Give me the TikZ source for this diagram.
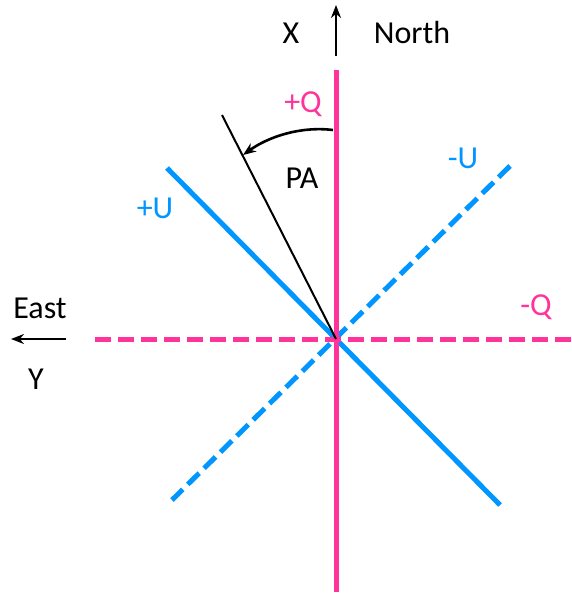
\documentclass[tikz,border=0pt]{standalone}
\usepackage{fontspec}
\setmainfont{Carlito}
\usetikzlibrary{arrows.meta}
\definecolor{qpink}{RGB}{255,51,153}
\definecolor{ublue}{RGB}{0,150,255}
\begin{document}
\begin{tikzpicture}[x=1pt,y=-1pt,
  lbl/.style={font=\fontsize{32}{34}\selectfont, inner sep=0pt},
  qline/.style={qpink, line width=5pt},
  uline/.style={ublue, line width=5pt},
  dashedline/.style={dash pattern=on 16pt off 7pt},
  axarrow/.style={black, line width=2.6pt, -{Stealth[length=13pt,width=10pt]}}]
\useasboundingbox (0,0) rectangle (571,597);
% coordinates
\coordinate (C) at (336,339);
\coordinate (Qt) at (336,70);
\coordinate (Qb) at (336,592);
\coordinate (Ql) at (92,339);
\coordinate (Qr) at (571,339);
\coordinate (Ua) at (167,168);
\coordinate (Ub) at (500,505);
\coordinate (Uc) at (172,500);
\coordinate (Ud) at (510,166);
\coordinate (P) at (222,115);
\coordinate (Ns) at (336,56);
\coordinate (Ne) at (336,5);
\coordinate (Es) at (66,339);
\coordinate (Ee) at (11,339);
\coordinate (As) at (333,130);
\coordinate (Ae) at (243,155);
% lines
\draw[uline] (Ua) -- (Ub);
\draw[uline, dashedline] (Ud) -- (Uc);
\draw[qline, dashedline] (Qr) -- (Ql);
\draw[qline] (Qt) -- (Qb);
\draw[black, line width=2pt] (P) -- (C);
\draw[axarrow] (As) .. controls (300,126) and (268,137) .. (Ae);
\draw[axarrow] (Ns) -- (Ne);
\draw[axarrow] (Es) -- (Ee);
% labels
\node[lbl] (X) at (291,33) {X};
\node[lbl] (North) at (412,33) {North};
\node[lbl, text=qpink] (pQ) at (303,104) {+Q};
\node[lbl] (PA) at (302,178) {PA};
\node[lbl, text=ublue] (mU) at (463,158) {-U};
\node[lbl, text=ublue] (pU) at (155,208) {+U};
\node[lbl, text=qpink] (mQ) at (536,307) {-Q};
\node[lbl] (East) at (40,308) {East};
\node[lbl] (Y) at (36,379) {Y};
\end{tikzpicture}
\end{document}
